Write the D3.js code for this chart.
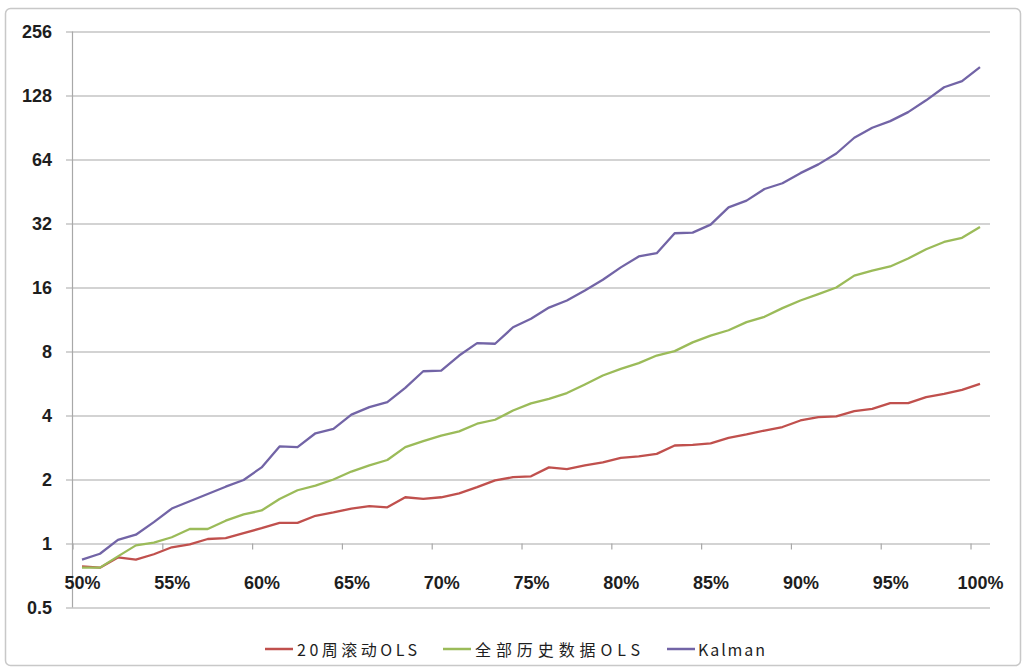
<!DOCTYPE html>
<html><head><meta charset="utf-8">
<script src="https://cdn.jsdelivr.net/npm/d3@7"></script>
<style>
body{margin:0;background:#fff;}
svg{display:block;}
</style></head>
<body>
<svg id="c" width="1026" height="672"></svg>
<script>
// categories: 50% .. 100%
const categories = d3.range(50, 101).map(d => d + "%");
const xTickLabels = ["50%","55%","60%","65%","70%","75%","80%","85%","90%","95%","100%"];
const yTickValues = [0.5, 1, 2, 4, 8, 16, 32, 64, 128, 256];
const seriesNames = ["20周滚动OLS", "全部历史数据OLS", "Kalman"];

const rolling20 = [0.78,0.77,0.86,0.84,0.89,0.96,0.99,1.05,1.06,1.12,1.18,1.25,1.25,
  1.35,1.40,1.46,1.50,1.48,1.65,1.62,1.65,1.72,1.84,1.98,2.05,2.07,
  2.28,2.24,2.33,2.41,2.53,2.57,2.64,2.89,2.91,2.96,3.14,3.26,3.40,
  3.53,3.79,3.93,3.96,4.19,4.30,4.57,4.57,4.88,5.06,5.28,5.63];
const fullHistory = [0.77,0.77,0.87,0.98,1.01,1.07,1.17,1.17,1.28,1.37,1.43,1.62,1.78,
  1.87,2.00,2.18,2.33,2.47,2.84,3.03,3.22,3.37,3.66,3.82,4.22,4.56,
  4.79,5.10,5.60,6.17,6.63,7.05,7.66,8.03,8.83,9.50,10.07,11.0,11.65,
  12.8,13.9,14.9,16.0,18.2,19.2,20.1,21.9,24.2,26.2,27.4,30.8];
const kalman = [0.84,0.895,1.04,1.10,1.26,1.46,1.58,1.71,1.85,1.99,2.28,2.86,2.84,
  3.30,3.46,4.04,4.38,4.62,5.40,6.46,6.50,7.66,8.76,8.70,10.4,11.4,
  12.87,13.9,15.5,17.4,19.9,22.4,23.2,28.8,29.0,31.6,38.1,41.0,46.5,
  49.5,55.2,60.7,68.3,81.0,90.3,97.0,106.9,121.5,140,149.5,174];

const colors = ["#C0504D", "#9BBB59", "#7264A6"];
const seriesList = [rolling20, fullHistory, kalman];

const svg = d3.select("#c");

// outer frame
svg.append("rect").attr("x",5.5).attr("y",8.5).attr("width",1015).attr("height",657)
  .attr("rx",5).attr("fill","#fff").attr("stroke","#C8C8C8").attr("stroke-width",1.5);

const x = d3.scalePoint().domain(categories).range([82, 980]);
const y = d3.scaleLog().base(2).domain([0.5, 256]).range([607.5, 31.5]);
const step = x.step();

// y axis with gridlines
const yAxis = d3.axisLeft(y).tickValues(yTickValues)
  .tickFormat(d => String(d)).tickSize(-924).tickPadding(14);
const gy = svg.append("g").attr("transform","translate(66,0)").call(yAxis);
gy.select(".domain").remove();
gy.selectAll(".tick line").attr("stroke","#C4C4C4").attr("stroke-width",1.6);
gy.selectAll(".tick text").attr("font-family","'Liberation Sans', Arial, sans-serif")
  .attr("font-size",18).attr("font-weight","bold").attr("fill","#1E1E1E");

// vertical axis line
svg.append("line").attr("x1",72.5).attr("x2",72.5).attr("y1",y(256)).attr("y2",y(0.5))
  .attr("stroke","#A8A8A8").attr("stroke-width",1.2);

// x axis (crosses at 1)
const xAxis = d3.axisBottom(x).tickValues(xTickLabels).tickSize(0).tickPadding(33);
const gx = svg.append("g").attr("transform",`translate(0,${y(1)})`).call(xAxis);
gx.select(".domain").remove();
gx.selectAll(".tick text").attr("font-family","'Liberation Sans', Arial, sans-serif")
  .attr("font-size",18).attr("font-weight","bold").attr("fill","#1E1E1E");
// tick marks at category boundaries
svg.append("g").selectAll("line").data(xTickLabels).join("line")
  .attr("x1", d => x(d) - step/2).attr("x2", d => x(d) - step/2)
  .attr("y1", y(1)).attr("y2", y(1) + 6)
  .attr("stroke","#A8A8A8").attr("stroke-width",1.2);

// lines
const line = d3.line().x((d,i) => x(categories[i])).y(d => y(d));
seriesList.forEach((s, k) => {
  svg.append("path").datum(s).attr("d", line).attr("fill","none")
    .attr("stroke", colors[k]).attr("stroke-width", 2.3)
    .attr("stroke-linejoin","round");
});

// legend
const legendItems = [
  {x: 265, tx: 297, w: 120},
  {x: 443, tx: 475, w: 165},
  {x: 667, tx: 698, w: 67}
];
const lg = svg.append("g");
legendItems.forEach((it, k) => {
  lg.append("line").attr("x1", it.x).attr("x2", it.x + 28).attr("y1", 649).attr("y2", 649)
    .attr("stroke", colors[k]).attr("stroke-width", 2.5);
  lg.append("text").attr("x", it.tx).attr("y", 656)
    .attr("font-family","'Noto Sans CJK SC', sans-serif").attr("font-size",16)
    .attr("fill","#1E1E1E").attr("textLength", it.w).attr("lengthAdjust","spacing")
    .text(seriesNames[k]);
});
</script>
</body></html>
